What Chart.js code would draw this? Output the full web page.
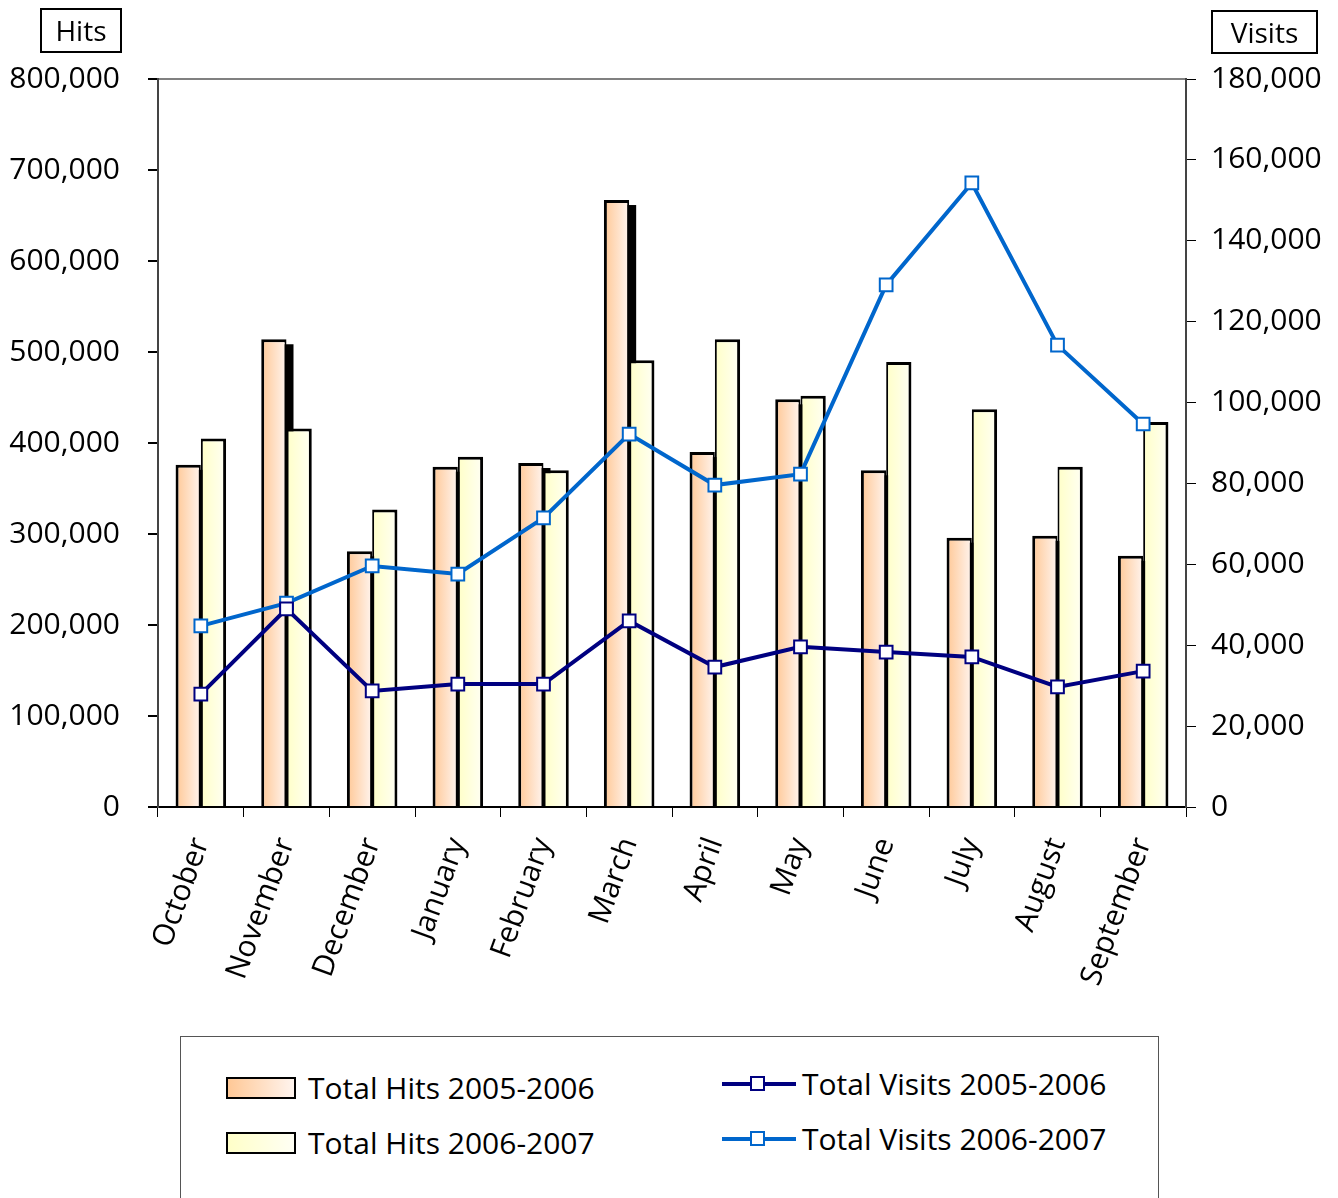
<!DOCTYPE html>
<html>
<head>
<meta charset="utf-8">
<script src="https://cdn.jsdelivr.net/npm/chart.js@4.4.1/dist/chart.umd.min.js"></script>
<style>
  body { margin: 0; background: #fff; font-family: "Open Sans", sans-serif; }
  #wrap { position: relative; width: 1338px; height: 1198px; overflow: hidden; }
  #chart { position: absolute; left: 0; top: 0; }
  .axTitle { position: absolute; border: 2px solid #000; font-size: 28px; line-height: 40px; text-align: center; box-sizing: border-box; }
  #legend { position: absolute; left: 180px; top: 1036px; width: 979px; height: 200px; border: 1px solid #555; box-sizing: border-box; }
  .item { position: absolute; font-size: 30px; white-space: nowrap; display: flex; align-items: center; }
  .sw { width: 66px; height: 18px; border: 2px solid #000; margin-right: 12px; }
  .ln { width: 74px; height: 24px; margin-right: 6px; position: relative; }
  .ln i { position: absolute; left: 0; right: 0; top: 10px; height: 4px; }
  .ln b { position: absolute; left: 28px; top: 4px; width: 11px; height: 11px; border: 2px solid; background: #fff; }
</style>
</head>
<body>
<div id="wrap">
  <canvas id="chart" width="1338" height="1030"></canvas>
  <div class="axTitle" style="left:40px;top:8px;width:82px;height:45px;">Hits</div>
  <div class="axTitle" style="left:1211px;top:10px;width:107px;height:44px;">Visits</div>
  <div id="legend">
    <div class="item" style="left:45px;top:30px;"><span class="sw" style="background:linear-gradient(to right,#ffc896,#fff4ee);"></span>Total Hits 2005-2006</div>
    <div class="item" style="left:45px;top:85px;"><span class="sw" style="background:linear-gradient(to right,#ffffc8,#fffff4);"></span>Total Hits 2006-2007</div>
    <div class="item" style="left:541px;top:26px;"><span class="ln"><i style="background:#000080"></i><b style="border-color:#000080"></b></span>Total Visits 2005-2006</div>
    <div class="item" style="left:541px;top:81px;"><span class="ln"><i style="background:#0066cc"></i><b style="border-color:#0066cc"></b></span>Total Visits 2006-2007</div>
  </div>
</div>
<script>
const months = ['October', 'November', 'December', 'January', 'February', 'March',
                'April', 'May', 'June', 'July', 'August', 'September'];
const hits0506 = [376000, 514000, 281000, 374000, 378000, 667000, 390000, 448000, 370000, 296000, 298000, 276000];
const hits0607 = [405000, 416000, 327000, 385000, 370000, 491000, 514000, 452000, 489000, 437000, 374000, 423000];
const visits0506 = [27900, 49000, 28700, 30400, 30400, 46000, 34600, 39600, 38300, 37100, 29700, 33600];
const visits0607 = [44800, 50400, 59600, 57600, 71500, 92200, 79600, 82300, 129100, 154300, 114200, 94700];

const catPct = 0.59;
const FONT = '"Open Sans", sans-serif';

// horizontal gradient per bar, worked out from the category scale
function barFill(from, to, side) {
    return (c) => {
        const xs = c.chart.scales.x;
        if (!xs || c.type !== 'data') return from;
        const center = xs.getPixelForValue(c.dataIndex);
        const w = xs.width / months.length * catPct / 2;
        if (!isFinite(center) || !isFinite(w) || w <= 0) return from;
        const x0 = side < 0 ? center - w : center;
        const g = c.chart.ctx.createLinearGradient(x0, 0, x0 + w, 0);
        g.addColorStop(0, from);
        g.addColorStop(1, to);
        return g;
    };
}

// the black 3D-ish shadow behind the first bar series
const barShadow = {
    id: 'barShadow',
    beforeDatasetsDraw(chart) {
        const { ctx, chartArea } = chart;
        const meta = chart.getDatasetMeta(0);
        ctx.save();
        ctx.beginPath();
        ctx.rect(chartArea.left, chartArea.top, chartArea.width, chartArea.height);
        ctx.clip();
        ctx.fillStyle = '#000';
        meta.data.forEach(el => {
            ctx.fillRect(el.x - el.width / 2 + 7, el.y + 5, el.width, el.base - el.y - 5);
        });
        ctx.restore();
    }
};

const fmt = v => Number(v).toLocaleString('en-US');

new Chart(document.getElementById('chart'), {
    type: 'bar',
    data: {
        labels: months,
        datasets: [
            {
                label: 'Total Hits 2005-2006',
                data: hits0506,
                backgroundColor: barFill('#ffc896', '#fff4ee', -1),
                borderColor: '#000',
                borderWidth: { top: 3, left: 3, right: 2, bottom: 0 },
                yAxisID: 'y',
                order: 1
            },
            {
                label: 'Total Hits 2006-2007',
                data: hits0607,
                backgroundColor: barFill('#ffffc8', '#fffff4', 1),
                borderColor: '#000',
                borderWidth: { top: 3, left: 2, right: 3, bottom: 0 },
                yAxisID: 'y',
                order: 1
            },
            {
                type: 'line',
                label: 'Total Visits 2005-2006',
                data: visits0506,
                borderColor: '#000080',
                borderWidth: 4,
                pointStyle: 'rect',
                pointRadius: 9,
                pointBorderWidth: 2,
                pointBackgroundColor: '#fff',
                pointBorderColor: '#000080',
                yAxisID: 'y1',
                order: 0
            },
            {
                type: 'line',
                label: 'Total Visits 2006-2007',
                data: visits0607,
                borderColor: '#0066cc',
                borderWidth: 4,
                pointStyle: 'rect',
                pointRadius: 9,
                pointBorderWidth: 2,
                pointBackgroundColor: '#fff',
                pointBorderColor: '#0066cc',
                yAxisID: 'y1',
                order: 0
            }
        ]
    },
    options: {
        responsive: false,
        animation: false,
        datasets: { bar: { categoryPercentage: catPct, barPercentage: 1.0 } },
        layout: { padding: { top: 79, left: 0, right: 0, bottom: 0 } },
        plugins: { legend: { display: false }, tooltip: { enabled: false } },
        scales: {
            x: {
                afterFit: s => { s.height = 223; },
                grid: { offset: true, drawOnChartArea: false, color: '#000', tickLength: 10 },
                border: { color: '#000', width: 2 },
                ticks: { color: '#000', font: { family: FONT, size: 30 }, minRotation: 70, maxRotation: 70, padding: 16 }
            },
            y: {
                position: 'left',
                min: 0, max: 800000,
                afterFit: s => { s.width = 158; },
                grid: {
                    color: c => c.tick && c.tick.value === 800000 ? '#808080' : 'rgba(0,0,0,0)',
                    lineWidth: 2,
                    tickColor: '#000',
                    tickLength: 10
                },
                border: { color: '#444', width: 2 },
                ticks: { stepSize: 100000, color: '#000', font: { family: FONT, size: 30 }, padding: 28, callback: fmt }
            },
            y1: {
                position: 'right',
                min: 0, max: 180000,
                afterFit: s => { s.width = 152; },
                grid: { drawOnChartArea: false, tickColor: '#000', tickLength: 10 },
                border: { color: '#444', width: 2 },
                ticks: { stepSize: 20000, color: '#000', font: { family: FONT, size: 30 }, padding: 15, callback: fmt }
            }
        }
    },
    plugins: [barShadow]
});
</script>
</body>
</html>
